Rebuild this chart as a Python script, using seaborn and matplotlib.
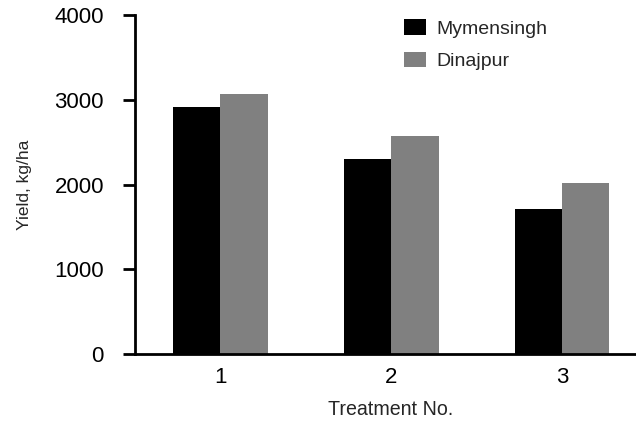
import matplotlib
matplotlib.use("Agg")
import matplotlib.pyplot as plt
import seaborn as sns
import pandas as pd

treatments = ["1", "2", "3"]
mymensingh = [2920, 2300, 1715]
dinajpur = [3065, 2570, 2025]
sites = ["Mymensingh", "Dinajpur"]
colors = {"Mymensingh": "#000000", "Dinajpur": "#808080"}

df = pd.DataFrame({
    "Treatment": treatments * 2,
    "Yield": mymensingh + dinajpur,
    "Site": [sites[0]] * 3 + [sites[1]] * 3,
})

sns.set_style("ticks")
plt.rcParams["font.family"] = ["Liberation Sans", "DejaVu Sans"]

fig = plt.figure(figsize=(6.36, 4.23), dpi=100)
ax = fig.add_axes([135 / 636, 1 - 354 / 423, 1 - 135 / 636, (354 - 15.3) / 423])

sns.barplot(data=df, x="Treatment", y="Yield", hue="Site", order=treatments,
            hue_order=sites, palette=colors, saturation=1, width=0.55,
            linewidth=0, ax=ax)

ax.set_ylim(0, 4000)
ax.set_xlim(-0.50, 2.43)
ax.set_yticks([0, 1000, 2000, 3000, 4000])
for s in ["top", "right"]:
    ax.spines[s].set_visible(False)
for s in ["left", "bottom"]:
    ax.spines[s].set_linewidth(2)
    ax.spines[s].set_color("black")
ax.tick_params(axis="y", direction="out", length=8.4, width=2, pad=14, labelsize=16, colors="black")
ax.tick_params(axis="x", length=0, pad=9, labelsize=16, colors="black")
ax.set_xlabel("Treatment No.", fontsize=14.1, labelpad=10)
ax.xaxis.set_label_coords(0.51, -0.135)
ax.set_ylabel("Yield, kg/ha", fontsize=12.5, labelpad=16)

ax.legend(loc="upper left", bbox_to_anchor=(404 / 636, 1 - 19.5 / 423),
          bbox_transform=fig.transFigure, frameon=False, fontsize=14,
          handlelength=1.13, handleheight=0.82, handletextpad=0.55,
          labelspacing=0.72, borderpad=0, borderaxespad=0)

fig.savefig("out.png", dpi=100)
